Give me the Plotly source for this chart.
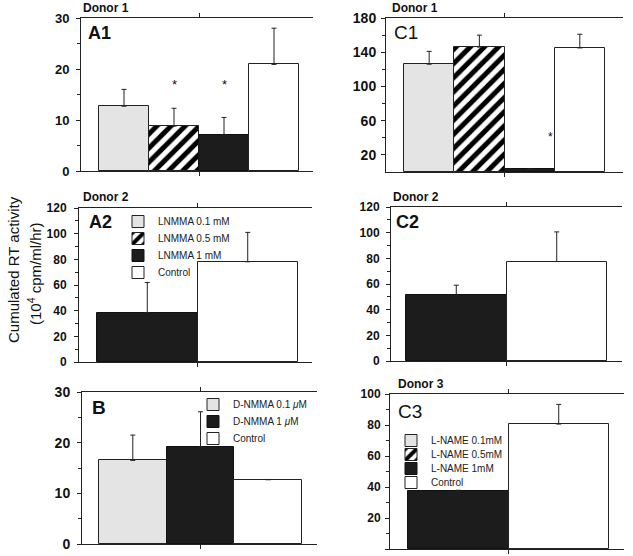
import plotly.graph_objects as go

W, H = 633, 556
FONT = "Arial, Liberation Sans, Helvetica, sans-serif"
INK = "#111111"

# ---------------- data ----------------
# Panel A1 (Donor 1, LNMMA)
a1_names = ["LNMMA 0.1 mM", "LNMMA 0.5 mM", "LNMMA 1 mM", "Control"]
a1_vals = [12.7, 8.8, 7.1, 20.9]
a1_err = [3.3, 3.5, 3.4, 7.1]
a1_stars = ["LNMMA 0.5 mM", "LNMMA 1 mM"]
a1_star_level = 17.5

# Panel A2 (Donor 2, LNMMA)
a2_names = ["LNMMA 1 mM", "Control"]
a2_vals = [38.5, 78.1]
a2_err = [23.5, 22.9]

# Panel B (D-NMMA)
b_names = ["D-NMMA 0.1 <i>μ</i>M", "D-NMMA 1 <i>μ</i>M", "Control"]
b_vals = [16.5, 19.2, 12.7]
b_err = [5.0, 6.9, 0.0]

# Panel C1 (Donor 1, L-NAME)
c1_names = ["L-NAME 0.1mM", "L-NAME 0.5mM", "L-NAME 1mM", "Control"]
c1_vals = [126.0, 146.0, 3.5, 145.0]
c1_err = [15.0, 14.0, 0.0, 16.0]
c1_stars = ["L-NAME 1mM"]
c1_star_level = 45.0

# Panel C2 (Donor 2, L-NAME)
c2_names = ["L-NAME 1mM", "Control"]
c2_vals = [51.3, 77.5]
c2_err = [7.8, 23.1]

# Panel C3 (Donor 3, L-NAME)
c3_names = ["L-NAME 1mM", "Control"]
c3_vals = [37.1, 80.6]
c3_err = [0.8, 12.7]

# ---------------- styles ----------------
LIGHT = dict(color="#e4e4e4", line=dict(color="#222", width=1))
HATCH = dict(color="white", line=dict(color="#222", width=1),
             pattern=dict(shape="/", fgcolor="#000000", bgcolor="white", size=10,
                          solidity=0.5, fgopacity=1))
DARK = dict(color="#1c1c1c", line=dict(color="#111", width=1))
CTRL = dict(color="white", line=dict(color="#222", width=1))

STYLE = {
    "LNMMA 0.1 mM": LIGHT, "LNMMA 0.5 mM": HATCH, "LNMMA 1 mM": DARK,
    "D-NMMA 0.1 <i>μ</i>M": LIGHT, "D-NMMA 1 <i>μ</i>M": DARK,
    "L-NAME 0.1mM": LIGHT, "L-NAME 0.5mM": HATCH, "L-NAME 1mM": DARK,
    "Control": CTRL,
}


def px(x):
    return x / W


def py(y):
    return 1 - y / H


# legend entry placement (left edge of box, vertical centre), in pixels
LEG_A = dict(x=132, ys=[218, 235, 252, 269])
LEG_B = dict(x=207, ys=[401, 418, 435])
LEG_C = dict(x=405, ys=[437, 451, 465, 479])

panels = [
    dict(names=a1_names, vals=a1_vals, err=a1_err, box=(81, 313, 18, 171),
         xr=[-0.86, 3.78], yr=[0, 30], ticks=[0, 10, 20, 30], minor=[5, 15, 25],
         right=[i * 2.5 for i in range(1, 12)], tfs=13, stand=4, leg=LEG_A),
    dict(names=a2_names, vals=a2_vals, err=a2_err, box=(79, 312, 208, 362),
         xr=[-0.68, 1.64], yr=[0, 120], ticks=list(range(0, 121, 20)),
         minor=list(range(10, 120, 20)), right=list(range(10, 120, 10)), tfs=12, stand=5,
         leg=None),
    dict(names=b_names, vals=b_vals, err=b_err, box=(82, 317, 392, 544),
         xr=[-0.75, 2.72], yr=[0, 30], ticks=[0, 10, 20, 30], minor=[5, 15, 25],
         right=[i * 2.5 for i in range(1, 12)], tfs=14, stand=4, leg=LEG_B),
    dict(names=c1_names, vals=c1_vals, err=c1_err, box=(386, 623, 18, 172),
         xr=[-0.86, 3.86], yr=[0, 180], ticks=[20, 60, 100, 140, 180],
         minor=[40, 80, 120, 160], right=list(range(20, 180, 20)), tfs=14, stand=2,
         leg=LEG_C),
    dict(names=c2_names, vals=c2_vals, err=c2_err, box=(391, 622, 207, 361),
         xr=[-0.65, 1.65], yr=[0, 120], ticks=list(range(0, 121, 20)),
         minor=list(range(10, 120, 20)), right=list(range(10, 120, 10)), tfs=12, stand=4,
         leg=None),
    dict(names=c3_names, vals=c3_vals, err=c3_err, box=(390, 624, 394, 549),
         xr=[-0.68, 1.65], yr=[0, 100], ticks=list(range(0, 101, 20)),
         minor=list(range(10, 100, 20)), right=list(range(10, 100, 10)), tfs=12, stand=2,
         leg=None),
]

fig = go.Figure()
layout = {}
leg_common = dict(xanchor="left", yanchor="top", bgcolor="rgba(0,0,0,0)",
                  font=dict(family=FONT, size=10, color="#222"), tracegroupgap=0,
                  itemclick=False, itemdoubleclick=False, borderwidth=0)
LEG_DX = 14   # box left edge offset inside a legend
LEG_DY = 11   # entry centre offset below legend top
leg_count = 0

for i, p in enumerate(panels):
    n = i + 1
    sfx = "" if n == 1 else str(n)
    xa, ya = "x" + sfx, "y" + sfx
    xs = list(range(len(p["names"])))
    for k, (xi, name, v, e) in enumerate(zip(xs, p["names"], p["vals"], p["err"])):
        kw = dict(showlegend=False)
        if p["leg"] is not None:
            leg_count += 1
            lid = "legend" if leg_count == 1 else "legend%d" % leg_count
            layout[lid] = dict(x=px(p["leg"]["x"] - LEG_DX),
                               y=py(p["leg"]["ys"][k] - LEG_DY), **leg_common)
            kw = dict(showlegend=True, legend=lid)
        fig.add_trace(go.Bar(
            x=[xi], y=[v], width=1, name=name, marker=STYLE[name],
            error_y=dict(type="data", symmetric=False, array=[e], arrayminus=[0],
                         color="#222", thickness=1, width=2.5),
            xaxis=xa, yaxis=ya, hoverinfo="skip", **kw))
    l, r, t, b = p["box"]
    mid = (len(xs) - 1) / 2
    layout["xaxis" + sfx] = dict(
        domain=[px(l), px(r)], anchor=ya, range=p["xr"], showline=True,
        linecolor="#222", linewidth=1, mirror="ticks", tickvals=[mid],
        ticks="outside", ticklen=4, tickcolor="#222", showticklabels=False,
        showgrid=False, zeroline=False, fixedrange=True)
    layout["yaxis" + sfx] = dict(
        domain=[py(b), py(t)], anchor=xa, range=p["yr"], tickvals=p["ticks"],
        ticks="outside", ticklen=4, tickcolor="#222", showline=True,
        linecolor="#222", linewidth=1, showgrid=False, zeroline=False,
        tickfont=dict(family=FONT, size=p["tfs"], color=INK, weight="bold"),
        ticklabelstandoff=p["stand"],
        minor=dict(tickvals=p["minor"], ticks="outside", ticklen=3, tickcolor="#222"),
        fixedrange=True)
    layout["yaxis" + str(n + 6)] = dict(
        overlaying=ya, anchor=xa, side="right", range=p["yr"], tickvals=p["right"],
        ticks="outside", ticklen=4, tickcolor="#222", showline=True,
        linecolor="#222", linewidth=1, showticklabels=False, showgrid=False,
        zeroline=False, fixedrange=True)

ann = []


def text(x, y, s, size, bold=False, angle=0, xanchor="left"):
    ann.append(dict(x=px(x), y=py(y), xref="paper", yref="paper", text=s,
                    showarrow=False, xanchor=xanchor, yanchor="middle", textangle=angle,
                    font=dict(family=FONT, size=size, color=INK,
                              weight="bold" if bold else "normal")))


# donor labels and panel letters
text(81, 8, "Donor 1", 12, True)
text(390, 8, "Donor 1", 12, True)
text(81, 197, "Donor 2", 12, True)
text(391, 197, "Donor 2", 12, True)
text(396, 384, "Donor 3", 12, True)
text(86, 33, "A1", 18, True)
text(392, 33, "C1", 19, False)
text(87, 222, "A2", 18, True)
text(394, 222, "C2", 18, True)
text(90, 407, "B", 19, True)
text(396, 411, "C3", 19, False)

# y-axis title
text(13, 270, "Cumulated RT activity", 15, angle=-90, xanchor="center")
text(34, 274, "(10<sup>4</sup> cpm/ml/hr)", 15, angle=-90, xanchor="center")

# significance stars
for name in a1_stars:
    ann.append(dict(x=a1_names.index(name), y=a1_star_level, xref="x", yref="y",
                    text="*", showarrow=False, yshift=-3,
                    font=dict(family=FONT, size=13, color=INK)))
for name in c1_stars:
    ann.append(dict(x=c1_names.index(name), y=c1_star_level, xref="x4", yref="y4",
                    text="*", showarrow=False, xshift=21, yshift=-3,
                    font=dict(family=FONT, size=12, color=INK)))

layout.update(
    width=W, height=H, margin=dict(l=0, r=0, t=0, b=0, autoexpand=False),
    paper_bgcolor="white", plot_bgcolor="white",
    barmode="overlay", bargap=0, showlegend=True,
    annotations=ann,
    font=dict(family=FONT, color=INK),
)
fig.update_layout(**layout)
fig.write_html("out.html", config={"displayModeBar": False},
               post_script="document.body.style.margin='0';document.body.style.overflow='hidden';")
